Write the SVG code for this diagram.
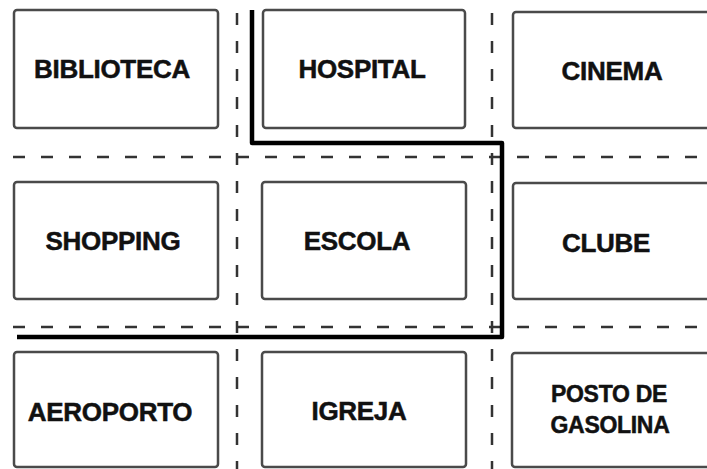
<svg xmlns="http://www.w3.org/2000/svg" width="707" height="469" viewBox="0 0 707 469">
<style>
.box{fill:#fff;stroke:#4a4a4a;stroke-width:2.5}
.lbl{font-family:"Liberation Sans",Arial,sans-serif;font-weight:bold;font-size:26px;fill:#111;stroke:#111;stroke-width:0.5;text-anchor:middle;letter-spacing:-0.3px}
.sm{font-size:23px}
.street{fill:none;stroke:#333;stroke-width:2.5;stroke-dasharray:12 16}
.route{fill:none;stroke:#000;stroke-width:4.5;stroke-linejoin:round}
</style>
<rect width="707" height="469" fill="#fff"/>
<g id="streets">
<line class="street" x1="13" y1="157" x2="707" y2="157"/>
<line class="street" x1="13" y1="327" x2="707" y2="327"/>
<line class="street" x1="237" y1="13" x2="237" y2="469"/>
<line class="street" x1="492" y1="13" x2="492" y2="469"/>
</g>
<g id="biblioteca"><rect class="box" x="14" y="10" width="204" height="118" rx="3"/><text class="lbl" x="112" y="78">BIBLIOTECA</text></g>
<g id="hospital"><rect class="box" x="263" y="10" width="202" height="118" rx="3"/><text class="lbl" x="362" y="78">HOSPITAL</text></g>
<g id="cinema"><rect class="box" x="513" y="12" width="210" height="116" rx="3"/><text class="lbl" x="612" y="80">CINEMA</text></g>
<g id="shopping"><rect class="box" x="14" y="182" width="204" height="117" rx="3"/><text class="lbl" x="113" y="250">SHOPPING</text></g>
<g id="escola"><rect class="box" x="262" y="182" width="204" height="117" rx="3"/><text class="lbl" x="357" y="250">ESCOLA</text></g>
<g id="clube"><rect class="box" x="513" y="183" width="210" height="116" rx="3"/><text class="lbl" x="606" y="252">CLUBE</text></g>
<g id="aeroporto"><rect class="box" x="14" y="352" width="204" height="115" rx="3"/><text class="lbl" x="110" y="421">AEROPORTO</text></g>
<g id="igreja"><rect class="box" x="262" y="352" width="204" height="115" rx="3"/><text class="lbl" x="359" y="420">IGREJA</text></g>
<g id="posto"><rect class="box" x="512" y="353" width="210" height="114" rx="3"/><text class="lbl sm" x="609" y="402">POSTO DE</text><text class="lbl sm" x="610" y="433">GASOLINA</text></g>
<g id="connectors">
<path class="route" d="M252,10 V143 H502 V337 H17"/>
</g>
</svg>
